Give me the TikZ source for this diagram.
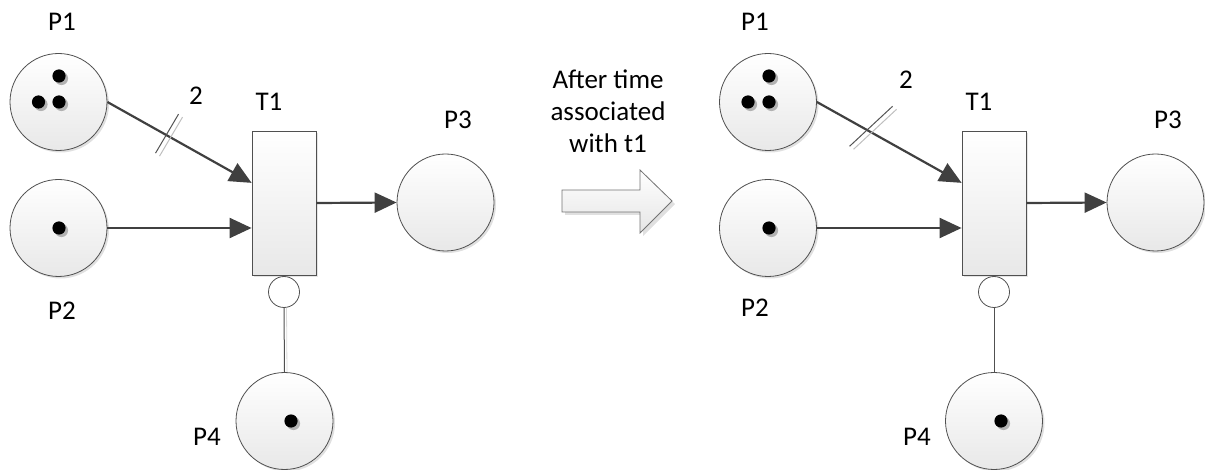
\documentclass[tikz,border=0pt]{standalone}
\usepackage{fontspec}
\setmainfont{Carlito}
\usetikzlibrary{arrows.meta,calc,shadows}
\definecolor{edge}{HTML}{404040}
\definecolor{rim}{HTML}{505050}
\tikzset{
  place/.style={circle,draw=rim,line width=0.8pt,minimum size=97pt,inner sep=0pt,
    top color=white,bottom color=black!9},
  trans/.style={rectangle,draw=rim,line width=0.8pt,minimum width=64pt,minimum height=144pt,
    inner sep=0pt,top color=white,bottom color=black!9},
  inhib/.style={circle,draw=rim,line width=0.8pt,fill=white,minimum size=31pt,inner sep=0pt},
  lbl/.style={font=\fontsize{27}{31}\selectfont,inner sep=0pt},
  arc/.style={draw=edge,line width=2.2pt,-{Triangle[length=22pt,width=20pt]}},
  tickd/.style={draw=edge!90,line width=1pt},
  tickl/.style={draw=black!25,line width=1pt},
  link/.style={draw=rim,line width=1pt},
}
% a token with its soft shadow
\newcommand\tok[1]{%
  \fill[black!30] ($#1+(2.5,2.5)$) circle (6.6);
  \fill[black] #1 circle (6.6);}
\begin{document}
\begin{tikzpicture}[x=1pt,y=-1pt]
\useasboundingbox (0,0) rectangle (1205,470);

% ---------- shadows of the shapes ----------
\foreach \x/\y in {58.5/102,58.5/228,445.5/202.5,284.5/421,768/102,768/228,1155.5/202.5,994/421}
  \fill[black!12] (\x+2,\y+2) circle (48.5);
\fill[black!10] (254,133) rectangle (318,277);
\fill[black!10] (964,133) rectangle (1028,277);

% ================= before firing =================
\node[place] (p1a) at (58.5,102) {};
\node[place] (p2a) at (58.5,228) {};
\node[trans] (t1a) at (284,203) {};
\node[place] (p3a) at (445.5,202.5) {};
\node[inhib] (ia) at (284,292) {};
\node[place] (p4a) at (284.5,421) {};

\tok{(59,76)} \tok{(38.5,102)} \tok{(59,102)}
\tok{(59,228)}
\tok{(291,421)}

\coordinate (ea) at ($(t1a.north west)!0.361!(t1a.south west)$);
\draw[arc] (p1a.east) -- (ea);
\draw[arc] (p2a.east) -- (t1a.west |- p2a);
\draw[arc] (t1a.east) -- (p3a.west);
\draw[link] (ia.south) -- (p4a.north);
\draw[draw=black!15,line width=0.8pt] ($(ia.south)+(2.5,0)$) -- ($(p4a.north)+(2.5,0)$);

\coordinate (ka) at ($(p1a.east)!0.41!(ea)$);
\draw[tickl] ($(ka)+(-7,21)$) -- ($(ka)+(16,-18)$);
\draw[tickd] ($(ka)+(-11,18)$) -- ($(ka)+(12,-21)$);

\node[lbl] (lp1a) at (62,22) {P1};
\node[lbl] (lwa) at (196,96) {2};
\node[lbl] (lt1a) at (269,102) {T1};
\node[lbl] (lp3a) at (458,120) {P3};
\node[lbl] (lp2a) at (62,311) {P2};
\node[lbl] (lp4a) at (207,437) {P4};

% ================= firing step =================
\node[lbl,align=center,font=\fontsize{27}{32}\selectfont] (step) at (608,111)
  {After time\\associated\\with t1};
\fill[black!12] (565,193) -- (643,193) -- (643,173) -- (675,204) -- (643,236) -- (643,215) -- (565,215) -- cycle;
\path[draw=black!55,line width=0.8pt,top color=white,bottom color=black!10]
  (562,190) -- (640,190) -- (640,170) -- (672,201) -- (640,233) -- (640,212) -- (562,212) -- cycle;

% ================= after firing =================
\node[place] (p1b) at (768,102) {};
\node[place] (p2b) at (768,228) {};
\node[trans] (t1b) at (994,203) {};
\node[place] (p3b) at (1155.5,202.5) {};
\node[inhib] (ib) at (994,292) {};
\node[place] (p4b) at (994,421) {};

\tok{(769,76)} \tok{(748,102)} \tok{(769,102)}
\tok{(769,228)}
\tok{(1001,421)}

\coordinate (eb) at ($(t1b.north west)!0.361!(t1b.south west)$);
\draw[arc] (p1b.east) -- (eb);
\draw[arc] (p2b.east) -- (t1b.west |- p2b);
\draw[arc] (t1b.east) -- (p3b.west);
\draw[link] (ib.south) -- (p4b.north);

\coordinate (kb) at ($(p1b.east)!0.35!(eb)$);
\draw[tickl] ($(kb)+(-14,19)$) -- ($(kb)+(29,-21)$);
\draw[tickd] ($(kb)+(-18,16)$) -- ($(kb)+(25,-24)$);

\node[lbl] (lp1b) at (755,22) {P1};
\node[lbl] (lwb) at (906,80) {2};
\node[lbl] (lt1b) at (979,102) {T1};
\node[lbl] (lp3b) at (1168,120) {P3};
\node[lbl] (lp2b) at (755,308) {P2};
\node[lbl] (lp4b) at (917,437) {P4};
\end{tikzpicture}
\end{document}
